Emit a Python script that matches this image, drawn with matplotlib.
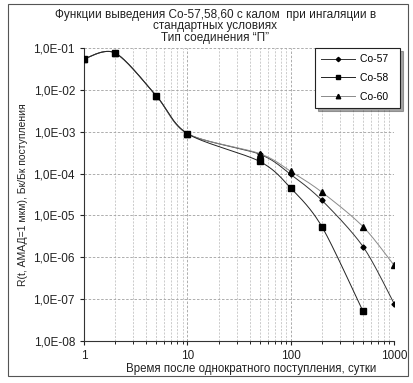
import matplotlib
matplotlib.use("Agg")
import matplotlib.pyplot as plt
import numpy as np
from matplotlib.ticker import FuncFormatter, FixedLocator, NullFormatter
from matplotlib.patches import Rectangle

plt.rcParams["font.family"] = ["Liberation Sans", "DejaVu Sans"]

# Время после поступления, сутки
days = [1, 2, 5, 10, 50, 100, 200, 500, 1000]
days_co58 = [1, 2, 5, 10, 50, 100, 200, 500]

co57 = [5.5e-2, 7.6e-2, 7.2e-3, 9.0e-4, 2.9e-4, 9.5e-5, 2.3e-5, 1.8e-6, 7.8e-8]
co58 = [5.5e-2, 7.6e-2, 7.2e-3, 9.0e-4, 1.95e-4, 4.5e-5, 5.4e-6, 5.1e-8]
co60 = [5.5e-2, 7.6e-2, 7.2e-3, 9.0e-4, 3.0e-4, 1.13e-4, 3.6e-5, 5.4e-6, 6.4e-7]

labels = ["Co-57", "Co-58", "Co-60"]

y_decades = [1e-8, 1e-7, 1e-6, 1e-5, 1e-4, 1e-3, 1e-2, 1e-1]
x_decades = [1, 10, 100, 1000]

TITLE_LINES = [
    "Функции выведения Со-57,58,60 с калом  при ингаляции в",
    "стандартных условиях",
    "Тип соединения \u201cП\u201d",
]


def smooth(x, y, n=30, k=0.45):
    # сглаживание как в Excel (кубический сплайн в лог. координатах,
    # крайние точки повторяются)
    lx = np.log10(np.asarray(x, float))
    ly = np.log10(np.asarray(y, float))
    px = np.concatenate([[lx[0]], lx, [lx[-1]]])
    py = np.concatenate([[ly[0]], ly, [ly[-1]]])
    outx, outy = [], []
    t = np.linspace(0, 1, n)
    for i in range(1, len(px) - 2):
        for arr, out in ((px, outx), (py, outy)):
            p1, p2 = arr[i], arr[i + 1]
            m1 = k * (arr[i + 1] - arr[i - 1])
            m2 = k * (arr[i + 2] - arr[i])
            h00 = 2 * t ** 3 - 3 * t ** 2 + 1
            h10 = t ** 3 - 2 * t ** 2 + t
            h01 = -2 * t ** 3 + 3 * t ** 2
            h11 = t ** 3 - t ** 2
            out.extend(h00 * p1 + h10 * m1 + h01 * p2 + h11 * m2)
    return 10 ** np.array(outx), 10 ** np.array(outy)


def sci_label(v, pos):
    e = int(round(np.log10(v)))
    return f"1,0E{'-' if e < 0 else '+'}{abs(e):02d}"


fig = plt.figure(figsize=(4.14, 3.83), dpi=100)
ax = fig.add_axes([0.203, 0.1097, 0.749, 0.765])

series = [
    (days, co57, "D", 2.6, "#333333", 3),
    (days_co58, co58, "s", 3.8, "#222222", 5),
    (days, co60, "^", 3.8, "#8a8a8a", 4),
]
for (x, y, m, ms, c, z), lab in zip(series, labels):
    sx, sy = smooth(x, y)
    ax.plot(sx, sy, color=c, lw=0.7, zorder=z)
    ax.plot(x, y, linestyle="none", marker=m, ms=ms, color="black", zorder=z)
    ax.plot([], [], color=c, lw=0.7, marker=m, ms=ms * 0.85, mfc="black",
            mec="black", label=lab + "  ")

ax.set_xscale("log")
ax.set_yscale("log")
ax.set_xlim(x_decades[0], x_decades[-1])
ax.set_ylim(y_decades[0], y_decades[-1])

ax.yaxis.set_major_locator(FixedLocator(y_decades))
ax.yaxis.set_major_formatter(FuncFormatter(sci_label))
ax.yaxis.set_minor_formatter(NullFormatter())
ax.tick_params(axis="y", which="minor", left=False)
ax.xaxis.set_major_locator(FixedLocator(x_decades))
ax.xaxis.set_major_formatter(FuncFormatter(lambda v, p: f"{v:g}"))
ax.xaxis.set_minor_formatter(NullFormatter())
ax.tick_params(which="major", direction="out", length=3, labelsize=8.5,
               colors="#222222")
ax.tick_params(which="minor", direction="out", length=2)

ax.grid(which="major", axis="both", color="#a0a0a0", ls=(0, (3, 2)), lw=0.6)
ax.grid(which="minor", axis="x", color="#b8b8b8", ls=(0, (3, 2)), lw=0.5)
ax.set_axisbelow(True)

for side in ("top", "right"):
    ax.spines[side].set_visible(False)
for side in ("left", "bottom"):
    ax.spines[side].set_color("#333333")
    ax.spines[side].set_linewidth(0.8)

ax.set_xlabel("Время после однократного поступления, сутки", fontsize=8.3,
              color="#222222")
ax.set_ylabel("R(t, АМАД=1 мкм), Бк/Бк поступления", fontsize=7.5,
              labelpad=4, color="#222222")
ax.xaxis.set_label_coords(0.54, -0.075)

for i, line in enumerate(TITLE_LINES):
    fig.text(0.52, 1 - (15 + 11.5 * i) / 383, line, ha="center",
             va="center", fontsize=8.5, color="#222222")

leg = ax.legend(loc="upper right", bbox_to_anchor=(400 / 414, 1 - 48 / 383),
                bbox_transform=fig.transFigure, borderaxespad=0, fontsize=7.5,
                frameon=True, fancybox=False, shadow=True,
                borderpad=0.6, labelspacing=0.85, handlelength=3.2,
                handletextpad=0.5)
leg.get_frame().set_edgecolor("#222222")
leg.get_frame().set_linewidth(0.8)

# рамка вокруг всей диаграммы
fig.patches.append(Rectangle((8 / 414, 7 / 383), 400 / 414, 372 / 383,
                             transform=fig.transFigure, fill=False,
                             ec="#555555", lw=0.8))

fig.savefig("out.png", dpi=100)
